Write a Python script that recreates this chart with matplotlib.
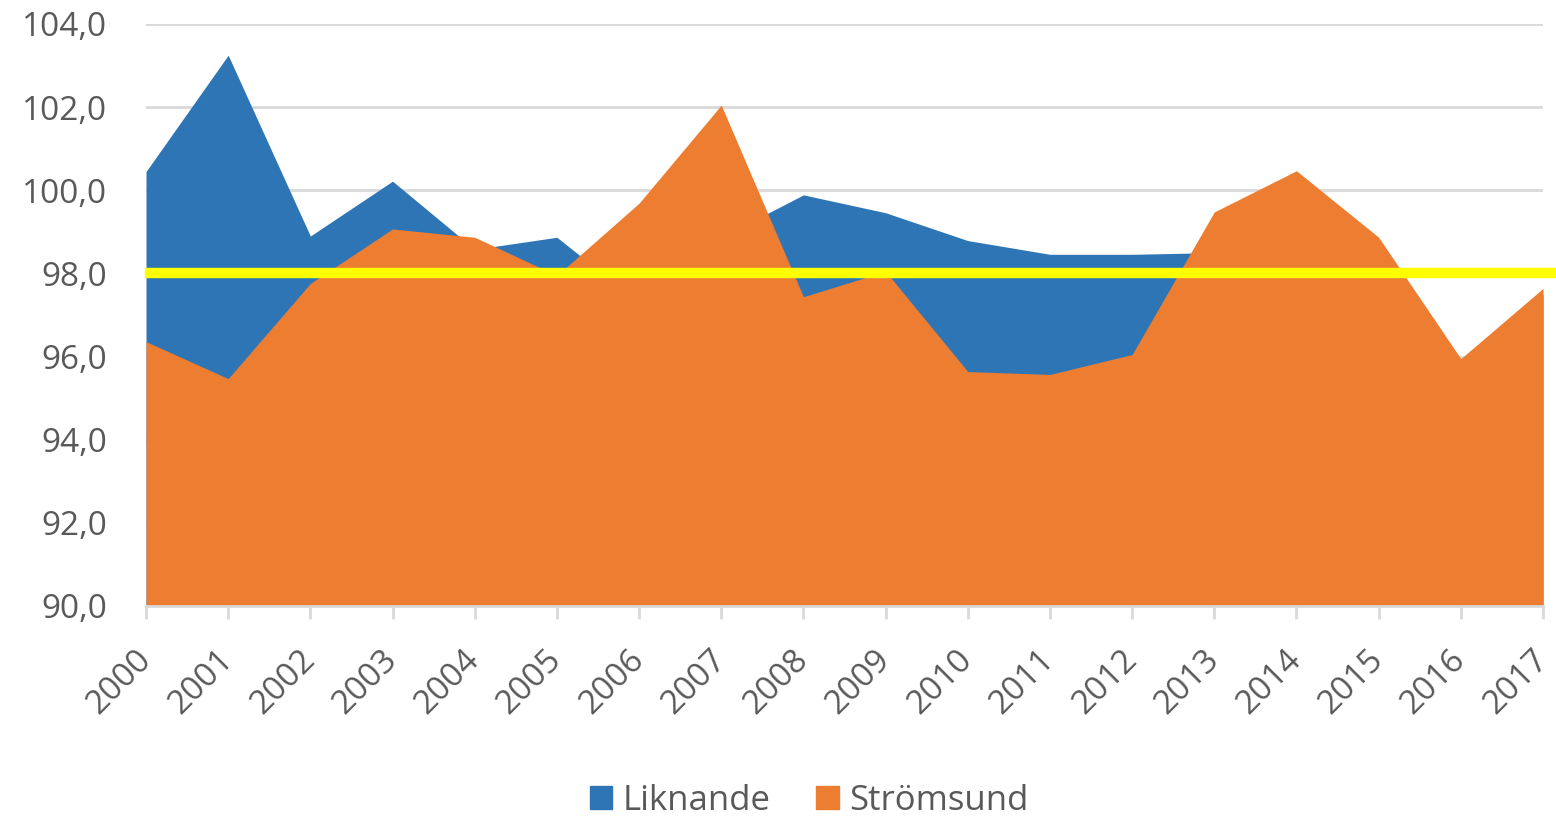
import matplotlib
matplotlib.use("Agg")
import matplotlib.pyplot as plt
from matplotlib.patches import Patch

years = list(range(2000, 2018))
liknande = [100.45, 103.25, 98.9, 100.22, 98.58, 98.87, 97.3, 98.87, 99.89, 99.46,
            98.79, 98.46, 98.46, 98.5, 98.6, 98.3, 95.9, 97.5]
stromsund = [96.36, 95.47, 97.76, 99.07, 98.87, 97.95, 99.69, 102.05, 97.44, 98.05,
             95.64, 95.57, 96.05, 99.48, 100.47, 98.87, 95.95, 97.64]
referens = 98.0
yticks = [90, 92, 94, 96, 98, 100, 102, 104]

blue = "#2e75b6"
orange = "#ed7d31"
grey = "#595959"

plt.rcParams['font.family'] = ['Open Sans', 'DejaVu Sans']

fig = plt.figure(figsize=(15.56, 8.18), dpi=100)
ax = fig.add_axes([146 / 1556, 1 - 606 / 818, (1543 - 146) / 1556, (606 - 24) / 818])

ax.fill_between(years, 90, liknande, color=blue, lw=0, zorder=2)
ax.fill_between(years, 90, stromsund, color=orange, lw=0, zorder=3)
ax.axhline(referens, xmin=0.003, xmax=1.007, color="#ffff00", lw=7.5, zorder=4, clip_on=False)

ax.set_xlim(years[0], years[-1])
ax.set_ylim(90, 104)
ax.set_yticks(yticks)
ax.set_yticklabels([f"{v:.1f}".replace(".", ",") for v in yticks])
ax.set_xticks(years)
ax.set_xticklabels([str(y) for y in years], rotation=45, ha="right", va="center",
                   rotation_mode="anchor")
ax.grid(axis="y", color="#d9d9d9", lw=2, zorder=0)
ax.set_axisbelow(True)

for s in ["top", "right", "left"]:
    ax.spines[s].set_visible(False)
ax.spines["bottom"].set_color("#d9d9d9")
ax.spines["bottom"].set_linewidth(2)
ax.spines["bottom"].set_zorder(5)

ax.tick_params(axis="y", length=0, labelsize=24, labelcolor=grey, pad=28)
ax.tick_params(axis="x", length=9, width=2, color="#d9d9d9", labelsize=24,
               labelcolor=grey, pad=26)

handles = [Patch(color=blue, label="Liknande"), Patch(color=orange, label="Strömsund")]
fig.legend(handles=handles, loc="center", bbox_to_anchor=(0.52, 0.021), ncol=2,
           frameon=False, fontsize=25, labelcolor=grey, handlelength=0.65,
           handleheight=0.65, handletextpad=0.3, columnspacing=1.3)

fig.savefig("out.png", dpi=100)
